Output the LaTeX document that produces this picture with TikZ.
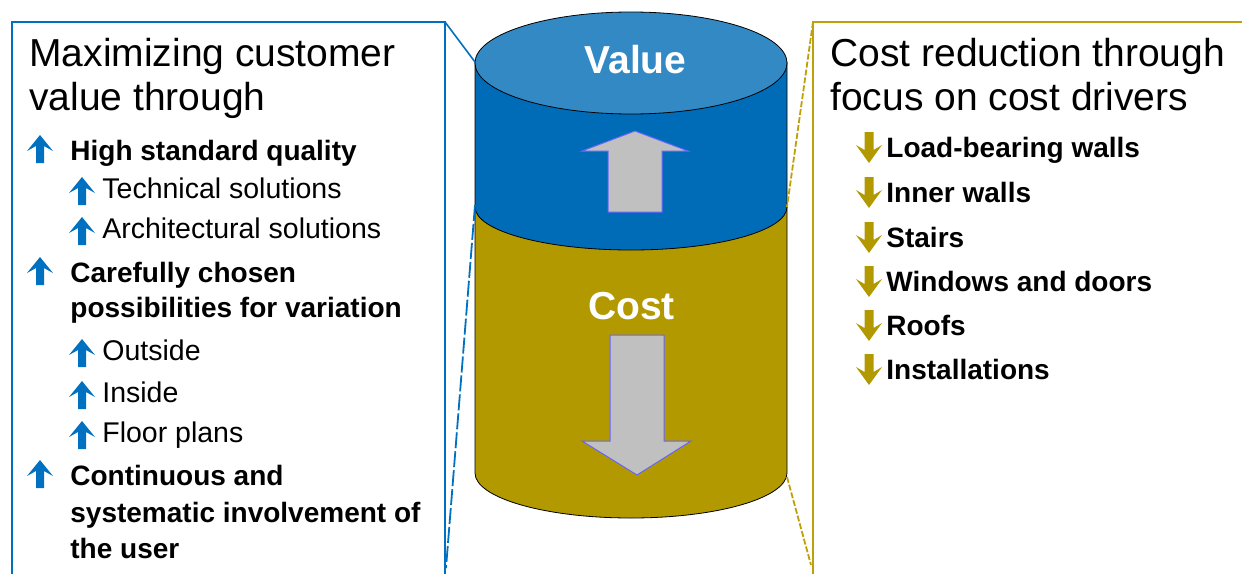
\documentclass[tikz,border=0pt]{standalone}
\usepackage{fontspec}
\setmainfont{Liberation Sans}
\definecolor{lblue}{RGB}{0,112,192}
\definecolor{topblue}{RGB}{51,137,196}
\definecolor{bandblue}{RGB}{0,107,182}
\definecolor{gold}{RGB}{178,153,0}
\definecolor{linegold}{RGB}{190,160,10}
\definecolor{arrgray}{RGB}{192,192,192}
\definecolor{arredge}{RGB}{100,100,255}
\tikzset{
  titletext/.style={anchor=base west,inner sep=0pt,font=\fontsize{19.5}{22}\selectfont},
  boldtext/.style={anchor=base west,inner sep=0pt,font=\fontsize{14}{18}\selectfont\bfseries},
  subtext/.style={anchor=base west,inner sep=0pt,font=\fontsize{14.25}{18}\selectfont},
  cyltext/.style={anchor=base,inner sep=0pt,text=white,font=\fontsize{19.5}{22}\selectfont\bfseries},
  uparr/.pic={\fill[lblue] (0,0) -- (13,16) -- (4,11) -- (4,28) -- (-4,28) -- (-4,11) -- (-13,16) -- cycle;},
  dnarr/.pic={\fill[gold] (0,0) -- (13,-18) -- (4.5,-13) -- (4.5,-31) -- (-4.5,-31) -- (-4.5,-13) -- (-13,-18) -- cycle;},
  cylline/.style={draw=black,line width=0.4pt},
  bigarrow/.style={fill=arrgray,draw=arredge,line width=0.5pt}
}
\begin{document}
\begin{tikzpicture}[x=0.5pt,y=-0.5pt]
\useasboundingbox (0,0) rectangle (1242,573);
% ---- cylinder ----
\fill[gold,cylline] (475,207) -- (475,473) arc[start angle=180,end angle=360,x radius=78pt,y radius=22.5pt] -- (787,207) -- cycle;
\fill[bandblue,cylline] (475,62) -- (475,207) arc[start angle=180,end angle=360,x radius=78pt,y radius=21.5pt] -- (787,62) -- cycle;
\fill[topblue,cylline] (631,63) ellipse[x radius=78pt,y radius=25.5pt];
\filldraw[bigarrow] (635,131) -- (688,151) -- (662,151) -- (662,212) -- (608,212) -- (608,151) -- (582,151) -- cycle;
\filldraw[bigarrow] (637,475) -- (691,441) -- (664,441) -- (664,335) -- (610,335) -- (610,441) -- (582,441) -- cycle;
\node[cyltext] (value) at (635.5,73) {Value};
\node[cyltext] (cost) at (631.5,319) {Cost};
% ---- left box ----
\coordinate (lbtl) at (12,22);
\coordinate (lbtr) at (445,22);
\coordinate (lbbl) at (12,580);
\coordinate (lbbr) at (445,580);
\coordinate (cyltl) at (475,62);
\coordinate (cylml) at (475,205);
\coordinate (lbend) at (446,568);
\draw[lblue,line width=1.1pt] (lbbl) -- (lbtl) -- (lbtr) -- (lbbr);
\draw[lblue,line width=0.8pt] (lbtr) -- (cyltl);
\draw[lblue,line width=0.9pt,dash pattern=on 8pt off 1.5pt] (cylml) -- (lbend);
% ---- right box ----
\coordinate (rbtl) at (813,22);
\coordinate (rbtr) at (1250,22);
\coordinate (rbbl) at (813,580);
\coordinate (cyltr) at (787,207);
\coordinate (cylbr) at (787,477);
\coordinate (rbend) at (811,565);
\draw[linegold,line width=1.1pt] (rbbl) -- (rbtl) -- (rbtr);
\draw[linegold,line width=0.9pt,dash pattern=on 3pt off 1pt] (rbtl) -- (cyltr);
\draw[linegold,line width=0.9pt,dash pattern=on 3pt off 1pt] (cylbr) -- (rbend);
% ---- left texts ----
\node[titletext] (lt1) at (29,66) {Maximizing customer};
\node[titletext] (lt2) at (29,110) {value through};
\pic at (40,135) {uparr};
\node[boldtext] (l1) at (70,160) {High standard quality};
\pic at (82,177) {uparr};
\node[subtext] (l1a) at (102,198) {Technical solutions};
\pic at (82,217) {uparr};
\node[subtext] (l1b) at (102,238) {Architectural solutions};
\pic at (40,257) {uparr};
\node[boldtext] (l2) at (70,282) {Carefully chosen};
\node[boldtext] (l2x) at (70,317) {possibilities for variation};
\pic at (82,339) {uparr};
\node[subtext] (l2a) at (102,360) {Outside};
\pic at (82,381) {uparr};
\node[subtext] (l2b) at (102,402) {Inside};
\pic at (82,421) {uparr};
\node[subtext] (l2c) at (102,442) {Floor plans};
\pic at (40,460) {uparr};
\node[boldtext] (l3) at (70,485) {Continuous and};
\node[boldtext] (l3x) at (70,522) {systematic involvement of};
\node[boldtext] (l3y) at (70,558) {the user};
% ---- right texts ----
\node[titletext] (rt1) at (830,66) {Cost reduction through};
\node[titletext] (rt2) at (830,110) {focus on cost drivers};
\pic at (869,163) {dnarr};
\node[boldtext] (r1) at (886,157) {Load-bearing walls};
\pic at (869,208) {dnarr};
\node[boldtext] (r2) at (886,202) {Inner walls};
\pic at (869,253) {dnarr};
\node[boldtext] (r3) at (886,247) {Stairs};
\pic at (869,297) {dnarr};
\node[boldtext] (r4) at (886,291) {Windows and doors};
\pic at (869,341) {dnarr};
\node[boldtext] (r5) at (886,335) {Roofs};
\pic at (869,385) {dnarr};
\node[boldtext] (r6) at (886,379) {Installations};
\end{tikzpicture}
\end{document}
